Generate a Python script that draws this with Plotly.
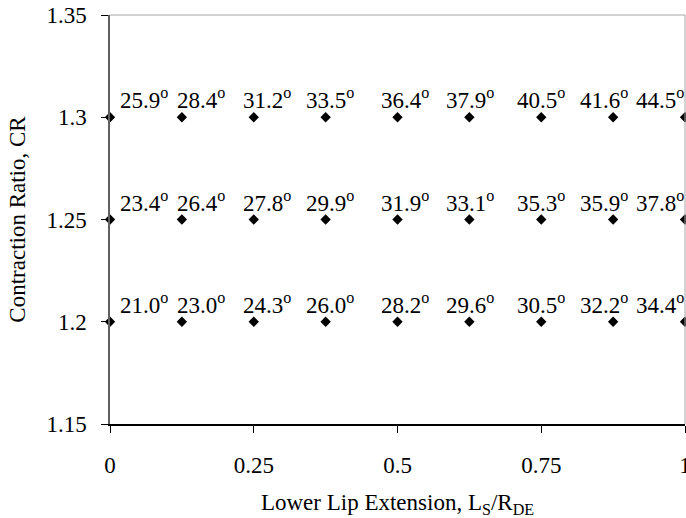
import plotly.graph_objects as go

# Data
x_vals = [0, 0.125, 0.25, 0.375, 0.5, 0.625, 0.75, 0.875, 1.0]
cr_levels = [1.2, 1.25, 1.3]
angles = {
    1.2: [21.0, 23.0, 24.3, 26.0, 28.2, 29.6, 30.5, 32.2, 34.4],
    1.25: [23.4, 26.4, 27.8, 29.9, 31.9, 33.1, 35.3, 35.9, 37.8],
    1.3: [25.9, 28.4, 31.2, 33.5, 36.4, 37.9, 40.5, 41.6, 44.5],
}
x_tick_vals = [0, 0.25, 0.5, 0.75, 1.0]
x_tick_text = ["0", "0.25", "0.5", "0.75", "1"]
y_tick_vals = [1.15, 1.2, 1.25, 1.3, 1.35]
y_tick_text = ["1.15", "1.2", "1.25", "1.3", "1.35"]

# label pixel offsets per column (style)
label_xshift = [34, 19, 13, 4, 7, 1, 0, -9, -25]

FONT = "Liberation Serif, Times New Roman, serif"
FS = 23

fig = go.Figure()
all_x, all_y = [], []
for cr in cr_levels:
    all_x += x_vals
    all_y += [cr] * len(x_vals)
fig.add_trace(go.Scatter(
    x=all_x, y=all_y, mode="markers",
    marker=dict(symbol="diamond", size=8, color="black"),
    cliponaxis=False, showlegend=False, hoverinfo="skip",
))

annotations = []
for cr in cr_levels:
    for xi, a, dx in zip(x_vals, angles[cr], label_xshift):
        annotations.append(dict(
            x=xi, y=cr, xref="x", yref="y",
            text=f"{a:.1f}<sup>o</sup>",
            showarrow=False, xanchor="center", yanchor="bottom",
            xshift=dx, yshift=2,
            font=dict(family=FONT, size=FS, color="black"),
        ))

fig.update_layout(
    width=686, height=518,
    margin=dict(l=110, r=1, t=15, b=94, autoexpand=False),
    paper_bgcolor="white", plot_bgcolor="white",
    font=dict(family=FONT, size=FS, color="black"),
    annotations=annotations,
    shapes=[dict(type="line", xref="paper", yref="paper", x0=0, x1=1, y0=1, y1=1,
                 line=dict(color="#a6a6a6", width=1)),
            dict(type="line", xref="paper", yref="paper", x0=1, x1=1, y0=0, y1=1,
                 line=dict(color="#a6a6a6", width=1))],
)
fig.update_xaxes(
    range=[0, 1], tickmode="array", tickvals=x_tick_vals, ticktext=x_tick_text,
    showgrid=False, zeroline=False, showline=True, linecolor="black", linewidth=1.5,
    ticks="outside", ticklen=7, tickcolor="black", tickwidth=1,
    tickfont=dict(family=FONT, size=FS, color="black"),
    ticklabelstandoff=13, ticklabeloverflow="allow", automargin=False,
    title=dict(text="Lower Lip Extension, L<sub>S</sub>/R<sub>DE</sub>",
               font=dict(family=FONT, size=FS, color="black"), standoff=19),
)
fig.update_yaxes(
    range=[1.15, 1.35], tickmode="array", tickvals=y_tick_vals, ticktext=y_tick_text,
    showgrid=False, zeroline=False, showline=True, linecolor="#606060", linewidth=1.5,
    ticks="outside", ticklen=7, tickcolor="black", tickwidth=1,
    tickfont=dict(family=FONT, size=FS, color="black"),
    ticklabelstandoff=10, automargin=False,
    title=dict(text="Contraction Ratio, CR",
               font=dict(family=FONT, size=FS, color="black"), standoff=14),
)

fig.write_html("out.html")
